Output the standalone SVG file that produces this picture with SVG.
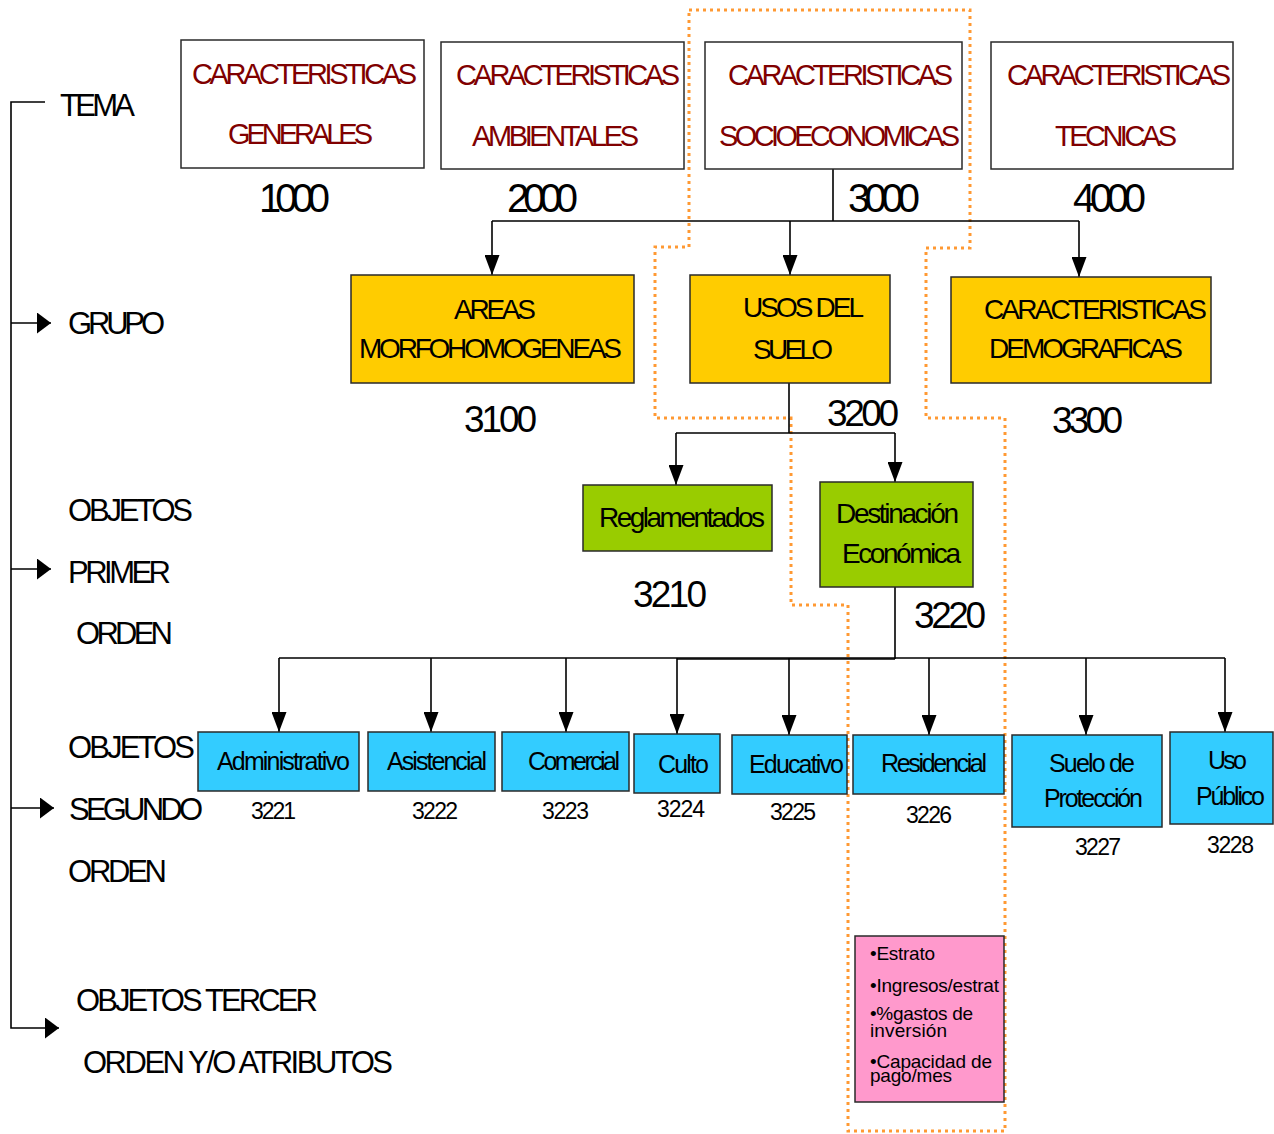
<svg xmlns="http://www.w3.org/2000/svg" width="1274" height="1134" viewBox="0 0 1274 1134">
  <style>
    text { font-family: "Liberation Sans", Arial, sans-serif; fill: #000; }
    .box { stroke: #2a2a2a; stroke-width: 1.5; }
    .tema { fill: #ffffff; }
    .grupo { fill: #ffcc00; }
    .prim { fill: #99cc00; }
    .seg { fill: #33ccff; }
    .attr { fill: #ff99cc; }
    .t-tema { font-size: 29px; fill: #800000; }
    .n-big { font-size: 40px; }
    .n-mid { font-size: 37px; }
    .t-grp { font-size: 28px; }
    .t-seg { font-size: 25px; }
    .n-small { font-size: 23px; }
    .t-side { font-size: 31px; }
    .t-attr { font-size: 19px; }
    .wire { fill: none; stroke: #000; stroke-width: 1.6; }
    .scope { fill: none; stroke: #ff9933; stroke-width: 3; stroke-dasharray: 3 4; }
  </style>
  <defs>
    <marker id="arrowDown" viewBox="0 0 20 15" refX="20" refY="7.5" markerWidth="20" markerHeight="15" markerUnits="userSpaceOnUse" orient="auto">
      <path d="M0,0 L20,7.5 L0,15 z" fill="#000"/>
    </marker>
    <marker id="arrowSide" viewBox="0 0 14 21" refX="14" refY="10.5" markerWidth="14" markerHeight="21" markerUnits="userSpaceOnUse" orient="auto">
      <path d="M0,0 L14,10.5 L0,21 z" fill="#000"/>
    </marker>
  </defs>

  <!-- level legend on the left -->
  <g id="legend">
    <text class="t-side" x="60" y="116" textLength="75" lengthAdjust="spacing">TEMA</text>
    <text class="t-side" x="68" y="334" textLength="97" lengthAdjust="spacing">GRUPO</text>
    <text class="t-side" x="68" y="521" textLength="125" lengthAdjust="spacing">OBJETOS</text>
    <text class="t-side" x="68" y="583" textLength="103" lengthAdjust="spacing">PRIMER</text>
    <text class="t-side" x="76" y="644" textLength="97" lengthAdjust="spacing">ORDEN</text>
    <text class="t-side" x="68" y="758" textLength="127" lengthAdjust="spacing">OBJETOS</text>
    <text class="t-side" x="69" y="820" textLength="134" lengthAdjust="spacing">SEGUNDO</text>
    <text class="t-side" x="68" y="882" textLength="99" lengthAdjust="spacing">ORDEN</text>
    <text class="t-side" x="76" y="1011" textLength="242" lengthAdjust="spacing">OBJETOS TERCER</text>
    <text class="t-side" x="83" y="1073" textLength="310" lengthAdjust="spacing">ORDEN Y/O ATRIBUTOS</text>
  </g>

  <!-- dotted outline around the socioeconomic branch -->
  <path class="scope" d="M689,10 H970 V248 H926 V418 H1005 V1131 H848 V605 H791 V418 H655 V247 H689 Z"/>

  <!-- connectors -->
  <g id="connectors">
    <path class="wire" d="M45,102 H11 V1028 H59" marker-end="url(#arrowSide)"/>
    <path class="wire" d="M11,323 H51" marker-end="url(#arrowSide)"/>
    <path class="wire" d="M11,569 H51" marker-end="url(#arrowSide)"/>
    <path class="wire" d="M11,808 H54" marker-end="url(#arrowSide)"/>

    <path class="wire" d="M833,168 V221 M492,221 H1079"/>
    <path class="wire" d="M492,221 V275" marker-end="url(#arrowDown)"/>
    <path class="wire" d="M790,221 V275" marker-end="url(#arrowDown)"/>
    <path class="wire" d="M1079,221 V277" marker-end="url(#arrowDown)"/>

    <path class="wire" d="M789,383 V433 M676,433 H895"/>
    <path class="wire" d="M676,433 V485" marker-end="url(#arrowDown)"/>
    <path class="wire" d="M895,433 V482" marker-end="url(#arrowDown)"/>

    <path class="wire" d="M895,587 V659 M279,658 H1225"/>
    <path class="wire" d="M677,659 H895" stroke-width="3"/>
    <path class="wire" d="M279,658 V732" marker-end="url(#arrowDown)"/>
    <path class="wire" d="M431,658 V732" marker-end="url(#arrowDown)"/>
    <path class="wire" d="M566,658 V732" marker-end="url(#arrowDown)"/>
    <path class="wire" d="M677,658 V734" marker-end="url(#arrowDown)"/>
    <path class="wire" d="M789,658 V735" marker-end="url(#arrowDown)"/>
    <path class="wire" d="M929,658 V735" marker-end="url(#arrowDown)"/>
    <path class="wire" d="M1086,658 V735" marker-end="url(#arrowDown)"/>
    <path class="wire" d="M1225,658 V732" marker-end="url(#arrowDown)"/>
  </g>

  <!-- themes -->
  <g id="tema-1000">
    <rect class="box tema" x="181" y="40" width="243" height="128"/>
    <text class="t-tema" x="192" y="84" textLength="225" lengthAdjust="spacing">CARACTERISTICAS</text>
    <text class="t-tema" x="228" y="144" textLength="145" lengthAdjust="spacing">GENERALES</text>
    <text class="n-big" x="259" y="212" textLength="71" lengthAdjust="spacing">1000</text>
  </g>
  <g id="tema-2000">
    <rect class="box tema" x="441" y="42" width="243" height="127"/>
    <text class="t-tema" x="456" y="85" textLength="224" lengthAdjust="spacing">CARACTERISTICAS</text>
    <text class="t-tema" x="472" y="146" textLength="167" lengthAdjust="spacing">AMBIENTALES</text>
    <text class="n-big" x="507" y="212" textLength="71" lengthAdjust="spacing">2000</text>
  </g>
  <g id="tema-3000">
    <rect class="box tema" x="705" y="42" width="257" height="127"/>
    <text class="t-tema" x="728" y="85" textLength="225" lengthAdjust="spacing">CARACTERISTICAS</text>
    <text class="t-tema" x="719" y="146" textLength="241" lengthAdjust="spacing">SOCIOECONOMICAS</text>
    <text class="n-big" x="848" y="212" textLength="72" lengthAdjust="spacing">3000</text>
  </g>
  <g id="tema-4000">
    <rect class="box tema" x="991" y="42" width="242" height="127"/>
    <text class="t-tema" x="1007" y="85" textLength="224" lengthAdjust="spacing">CARACTERISTICAS</text>
    <text class="t-tema" x="1055" y="146" textLength="122" lengthAdjust="spacing">TECNICAS</text>
    <text class="n-big" x="1073" y="212" textLength="73" lengthAdjust="spacing">4000</text>
  </g>

  <!-- groups -->
  <g id="grupo-3100">
    <rect class="box grupo" x="351" y="275" width="283" height="108"/>
    <text class="t-grp" x="454" y="319" textLength="82" lengthAdjust="spacing">AREAS</text>
    <text class="t-grp" x="359" y="358" textLength="263" lengthAdjust="spacing">MORFOHOMOGENEAS</text>
    <text class="n-mid" x="464" y="432" textLength="73" lengthAdjust="spacing">3100</text>
  </g>
  <g id="grupo-3200">
    <rect class="box grupo" x="690" y="275" width="200" height="108"/>
    <text class="t-grp" x="743" y="317" textLength="121" lengthAdjust="spacing">USOS DEL</text>
    <text class="t-grp" x="753" y="359" textLength="80" lengthAdjust="spacing">SUELO</text>
    <text class="n-mid" x="827" y="426" textLength="72" lengthAdjust="spacing">3200</text>
  </g>
  <g id="grupo-3300">
    <rect class="box grupo" x="951" y="277" width="260" height="106"/>
    <text class="t-grp" x="984" y="319" textLength="223" lengthAdjust="spacing">CARACTERISTICAS</text>
    <text class="t-grp" x="989" y="358" textLength="194" lengthAdjust="spacing">DEMOGRAFICAS</text>
    <text class="n-mid" x="1052" y="433" textLength="71" lengthAdjust="spacing">3300</text>
  </g>

  <!-- first-order objects -->
  <g id="obj-3210">
    <rect class="box prim" x="583" y="485" width="189" height="66"/>
    <text class="t-grp" x="599" y="527" textLength="166" lengthAdjust="spacing">Reglamentados</text>
    <text class="n-mid" x="633" y="607" textLength="74" lengthAdjust="spacing">3210</text>
  </g>
  <g id="obj-3220">
    <rect class="box prim" x="820" y="482" width="153" height="105"/>
    <text class="t-grp" x="836" y="523" textLength="123" lengthAdjust="spacing">Destinación</text>
    <text class="t-grp" x="842" y="563" textLength="119" lengthAdjust="spacing">Económica</text>
    <text class="n-mid" x="914" y="628" textLength="72" lengthAdjust="spacing">3220</text>
  </g>

  <!-- second-order objects -->
  <g id="obj-3221">
    <rect class="box seg" x="198" y="732" width="161" height="59"/>
    <text class="t-seg" x="217" y="770" textLength="133" lengthAdjust="spacing">Administrativo</text>
    <text class="n-small" x="251" y="819" textLength="45" lengthAdjust="spacing">3221</text>
  </g>
  <g id="obj-3222">
    <rect class="box seg" x="368" y="732" width="127" height="59"/>
    <text class="t-seg" x="387" y="770" textLength="100" lengthAdjust="spacing">Asistencial</text>
    <text class="n-small" x="412" y="819" textLength="46" lengthAdjust="spacing">3222</text>
  </g>
  <g id="obj-3223">
    <rect class="box seg" x="502" y="732" width="127" height="59"/>
    <text class="t-seg" x="528" y="770" textLength="92" lengthAdjust="spacing">Comercial</text>
    <text class="n-small" x="542" y="819" textLength="47" lengthAdjust="spacing">3223</text>
  </g>
  <g id="obj-3224">
    <rect class="box seg" x="634" y="734" width="86" height="59"/>
    <text class="t-seg" x="658" y="773" textLength="51" lengthAdjust="spacing">Culto</text>
    <text class="n-small" x="657" y="817" textLength="48" lengthAdjust="spacing">3224</text>
  </g>
  <g id="obj-3225">
    <rect class="box seg" x="732" y="735" width="115" height="59"/>
    <text class="t-seg" x="749" y="773" textLength="95" lengthAdjust="spacing">Educativo</text>
    <text class="n-small" x="770" y="820" textLength="46" lengthAdjust="spacing">3225</text>
  </g>
  <g id="obj-3226">
    <rect class="box seg" x="853" y="735" width="151" height="59"/>
    <text class="t-seg" x="881" y="772" textLength="106" lengthAdjust="spacing">Residencial</text>
    <text class="n-small" x="906" y="823" textLength="46" lengthAdjust="spacing">3226</text>
  </g>
  <g id="obj-3227">
    <rect class="box seg" x="1012" y="735" width="150" height="92"/>
    <text class="t-seg" x="1049" y="772" textLength="86" lengthAdjust="spacing">Suelo de</text>
    <text class="t-seg" x="1044" y="807" textLength="99" lengthAdjust="spacing">Protección</text>
    <text class="n-small" x="1075" y="855" textLength="46" lengthAdjust="spacing">3227</text>
  </g>
  <g id="obj-3228">
    <rect class="box seg" x="1170" y="732" width="103" height="92"/>
    <text class="t-seg" x="1208" y="769" textLength="39" lengthAdjust="spacing">Uso</text>
    <text class="t-seg" x="1196" y="805" textLength="69" lengthAdjust="spacing">Público</text>
    <text class="n-small" x="1207" y="853" textLength="47" lengthAdjust="spacing">3228</text>
  </g>

  <!-- third-order attributes -->
  <g id="attr-3226">
    <rect class="box attr" x="855" y="936" width="149" height="166"/>
    <text class="t-attr" x="870" y="960" textLength="65" lengthAdjust="spacing">•Estrato</text>
    <text class="t-attr" x="870" y="992" textLength="129" lengthAdjust="spacing">•Ingresos/estrat</text>
    <text class="t-attr" x="870" y="1020" textLength="103" lengthAdjust="spacing">•%gastos de</text>
    <text class="t-attr" x="870" y="1037" textLength="77" lengthAdjust="spacing">inversión</text>
    <text class="t-attr" x="870" y="1068" textLength="122" lengthAdjust="spacing">•Capacidad de</text>
    <text class="t-attr" x="870" y="1082" textLength="82" lengthAdjust="spacing">pago/mes</text>
  </g>
</svg>
